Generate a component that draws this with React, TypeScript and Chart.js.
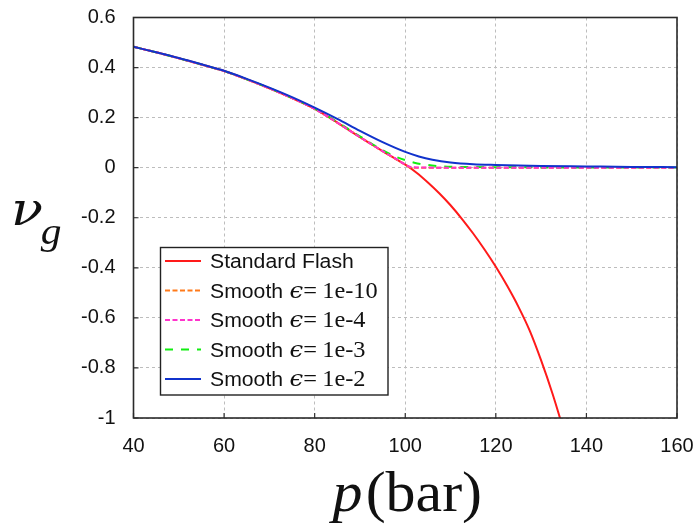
import React, { useEffect, useRef } from "react";
import { Chart, registerables } from "chart.js";

Chart.register(...registerables);

// ---- tick values / labels ----
const xTicks = [40, 60, 80, 100, 120, 140, 160];
const yTicks = [0.6, 0.4, 0.2, 0, -0.2, -0.4, -0.6, -0.8, -1];
const yTickLabels = ["0.6", "0.4", "0.2", "0", "-0.2", "-0.4", "-0.6", "-0.8", "-1"];

// ---- series data (p in bar, nu_g) ----
const pStandard = [40, 45, 50, 55, 60, 65, 70, 75, 80, 85, 90, 92.5, 95, 97.5, 100, 102.5, 105, 107.5, 110, 112.5, 115, 117.5, 120, 122.5, 125, 127.5, 130, 132.5, 135];
const vStandard = [0.483, 0.461, 0.437, 0.412, 0.386, 0.353, 0.317, 0.278, 0.235, 0.18, 0.122, 0.094, 0.066, 0.039, 0.012, -0.02, -0.059, -0.102, -0.15, -0.204, -0.263, -0.327, -0.396, -0.472, -0.556, -0.652, -0.77, -0.902, -1.05];

const pEps10 = [40, 45, 50, 55, 60, 65, 70, 75, 80, 85, 90, 92.5, 95, 97.5, 100, 101, 102, 110, 120, 140, 160];
const vEps10 = [0.483, 0.461, 0.437, 0.412, 0.386, 0.353, 0.317, 0.278, 0.235, 0.18, 0.122, 0.094, 0.066, 0.039, 0.012, 0.002, 0, 0, 0, 0, 0];

const pEps4 = [40, 45, 50, 55, 60, 65, 70, 75, 80, 85, 90, 92.5, 95, 97.5, 100, 101, 102, 104, 110, 120, 140, 160];
const vEps4 = [0.483, 0.461, 0.437, 0.412, 0.386, 0.353, 0.317, 0.278, 0.235, 0.18, 0.122, 0.094, 0.066, 0.04, 0.013, 0.004, 0.0015, 0.0005, 0, 0, 0, 0];

const pEps3 = [40, 45, 50, 55, 60, 65, 70, 75, 80, 85, 90, 95, 98, 100, 102, 104, 107, 110, 120, 140, 160];
const vEps3 = [0.483, 0.461, 0.437, 0.412, 0.386, 0.353, 0.318, 0.279, 0.236, 0.182, 0.125, 0.07, 0.043, 0.03, 0.02, 0.013, 0.007, 0.004, 0.002, 0.001, 0.001];

const pEps2 = [40, 45, 50, 55, 60, 65, 70, 75, 80, 85, 90, 95, 100, 103, 106, 110, 115, 120, 130, 140, 150, 160];
const vEps2 = [0.483, 0.461, 0.438, 0.413, 0.387, 0.355, 0.32, 0.282, 0.24, 0.195, 0.147, 0.102, 0.063, 0.045, 0.032, 0.021, 0.014, 0.011, 0.007, 0.005, 0.003, 0.002];

// ---- legend text ----
const legendPrefix = ["Standard Flash", "Smooth ", "Smooth ", "Smooth ", "Smooth "];
const legendEps = ["", "1e-10", "1e-4", "1e-3", "1e-2"];

const SANS = '"Liberation Sans", Arial, Helvetica, sans-serif';
const SERIF = '"Liberation Serif", "Times New Roman", serif';
const MATH = '"DejaVu Serif", "Liberation Serif", serif';

const styles = [
  { color: "#ff1a1a", dash: [] as number[] },
  { color: "#ff7a1a", dash: [5, 2.5] },
  { color: "#ff33cc", dash: [5, 2.5] },
  { color: "#11ee11", dash: [8, 8] },
  { color: "#1133cc", dash: [] as number[] },
];

const toPts = (xs: number[], ys: number[]) => xs.map((x, i) => ({ x, y: ys[i] }));

const decorPlugin = {
  id: "decor",
  beforeDatasetsDraw(chart: any) {
    const { ctx, chartArea: a, scales } = chart;
    ctx.save();
    ctx.strokeStyle = "#333";
    ctx.lineWidth = 1.2;
    ctx.setLineDash([]);
    ctx.beginPath();
    for (const v of xTicks) {
      const px = scales.x.getPixelForValue(v);
      ctx.moveTo(px, a.bottom);
      ctx.lineTo(px, a.bottom - 5);
    }
    for (const v of yTicks) {
      const py = scales.y.getPixelForValue(v);
      ctx.moveTo(a.left, py);
      ctx.lineTo(a.left + 5, py);
    }
    ctx.stroke();
    ctx.restore();
  },
  afterDatasetsDraw(chart: any) {
    const { ctx, chartArea: a } = chart;
    ctx.save();
    // frame
    ctx.setLineDash([]);
    ctx.strokeStyle = "#2a2a2a";
    ctx.lineWidth = 1.6;
    ctx.strokeRect(a.left, a.top, a.right - a.left, a.bottom - a.top);

    // legend
    const bx = 160.5, by = 247.5, bw = 227.5, bh = 147.5;
    ctx.fillStyle = "#fff";
    ctx.fillRect(bx, by, bw, bh);
    ctx.strokeStyle = "#222";
    ctx.lineWidth = 1.4;
    ctx.strokeRect(bx, by, bw, bh);
    const rowY = [261, 290.5, 320, 349.5, 379];
    for (let i = 0; i < 5; i++) {
      const y = rowY[i];
      ctx.strokeStyle = styles[i].color;
      ctx.lineWidth = 2;
      ctx.setLineDash(styles[i].dash);
      ctx.beginPath();
      ctx.moveTo(165, y);
      ctx.lineTo(201, y);
      ctx.stroke();
      ctx.setLineDash([]);
      ctx.fillStyle = "#111";
      ctx.textBaseline = "alphabetic";
      ctx.textAlign = "left";
      const base = y + 7;
      ctx.save();
      ctx.translate(210, base);
      ctx.scale(1.06, 1);
      let x = 0;
      ctx.font = `20px ${SANS}`;
      ctx.fillText(legendPrefix[i], x, 0);
      if (legendEps[i]) {
        x += ctx.measureText(legendPrefix[i]).width + 0.5;
        ctx.font = `italic 23px ${MATH}`;
        ctx.fillText("\u03F5", x, 0);
        x += ctx.measureText("\u03F5").width;
        ctx.font = `23px ${SERIF}`;
        ctx.fillText("=", x, 0);
        x += ctx.measureText("=").width + 5;
        ctx.fillText(legendEps[i], x, 0);
      }
      ctx.restore();
    }
    ctx.restore();
  },
  afterDraw(chart: any) {
    const { ctx, chartArea: a } = chart;
    ctx.save();
    ctx.fillStyle = "#111";
    ctx.textBaseline = "alphabetic";
    ctx.textAlign = "left";
    // x title: p(bar)
    const fIt = `italic 56px ${SERIF}`;
    const fUp = `56px ${SERIF}`;
    const sx = 1.07;
    ctx.font = fIt;
    const w1 = ctx.measureText("p").width + 3;
    ctx.font = fUp;
    const w2 = ctx.measureText("(bar)").width;
    const cx = (a.left + a.right) / 2 + 2;
    const x0 = cx - ((w1 + w2) * sx) / 2;
    ctx.save();
    ctx.translate(x0, 511);
    ctx.scale(sx, 1);
    ctx.font = fIt;
    ctx.fillText("p", 0, 0);
    ctx.font = fUp;
    ctx.fillText("(bar)", w1, 0);
    ctx.restore();
    // y title: nu_g
    ctx.save();
    ctx.translate(11, 225);
    ctx.scale(1.12, 1);
    ctx.font = `italic 47px ${MATH}`;
    ctx.fillText("\u03BD", 0, 0);
    const wn = ctx.measureText("\u03BD").width;
    ctx.font = `italic 37px ${SERIF}`;
    ctx.fillText("g", wn - 2, 19);
    ctx.restore();
    ctx.restore();
  },
};

export default function App() {
  const ref = useRef<HTMLCanvasElement | null>(null);
  useEffect(() => {
    if (!ref.current) return;
    const mk = (label: string, xs: number[], ys: number[], i: number, order: number) => ({
      label,
      data: toPts(xs, ys),
      borderColor: styles[i].color,
      backgroundColor: styles[i].color,
      borderWidth: 2,
      borderDash: styles[i].dash,
      pointRadius: 0,
      fill: false,
      cubicInterpolationMode: "monotone" as const,
      order,
    });
    const chart = new Chart(ref.current, {
      type: "line",
      data: {
        datasets: [
          mk("Standard Flash", pStandard, vStandard, 0, 4),
          mk("Smooth 1e-10", pEps10, vEps10, 1, 3),
          mk("Smooth 1e-4", pEps4, vEps4, 2, 1),
          mk("Smooth 1e-3", pEps3, vEps3, 3, 2),
          mk("Smooth 1e-2", pEps2, vEps2, 4, 0),
        ],
      },
      options: {
        animation: false,
        responsive: true,
        maintainAspectRatio: false,
        layout: { padding: { top: 17.5, right: 21, left: 0, bottom: 0 } },
        plugins: { legend: { display: false }, tooltip: { enabled: false }, title: { display: false } },
        scales: {
          x: {
            type: "linear",
            min: 40,
            max: 160,
            afterBuildTicks: (s: any) => {
              s.ticks = xTicks.map((v) => ({ value: v }));
            },
            afterFit: (s: any) => {
              s.height = 110;
              s.paddingLeft = 0;
              s.paddingRight = 0;
            },
            ticks: {
              font: { size: 20, family: SANS },
              color: "#111",
              padding: 16,
              maxRotation: 0,
              callback: (v: any) => String(v),
            },
            grid: { color: "#bdbdbd", lineWidth: 1, drawTicks: false },
            border: { display: false, dash: [3, 3] },
          },
          y: {
            type: "linear",
            min: -1,
            max: 0.6,
            afterBuildTicks: (s: any) => {
              s.ticks = yTicks.map((v) => ({ value: v }));
            },
            afterFit: (s: any) => {
              s.width = 133.5;
              s.paddingTop = 0;
              s.paddingBottom = 0;
            },
            ticks: {
              font: { size: 20, family: SANS },
              color: "#111",
              padding: 18,
              callback: (v: any) => {
                const i = yTicks.findIndex((t) => Math.abs(t - Number(v)) < 1e-9);
                return i >= 0 ? yTickLabels[i] : "";
              },
            },
            grid: { color: "#bdbdbd", lineWidth: 1, drawTicks: false },
            border: { display: false, dash: [3, 3] },
          },
        },
      },
      plugins: [decorPlugin],
    });
    return () => chart.destroy();
  }, []);
  return (
    <div style={{ position: "absolute", left: 0, top: 0, width: 698, height: 528, background: "#fff" }}>
      <canvas ref={ref} />
    </div>
  );
}
